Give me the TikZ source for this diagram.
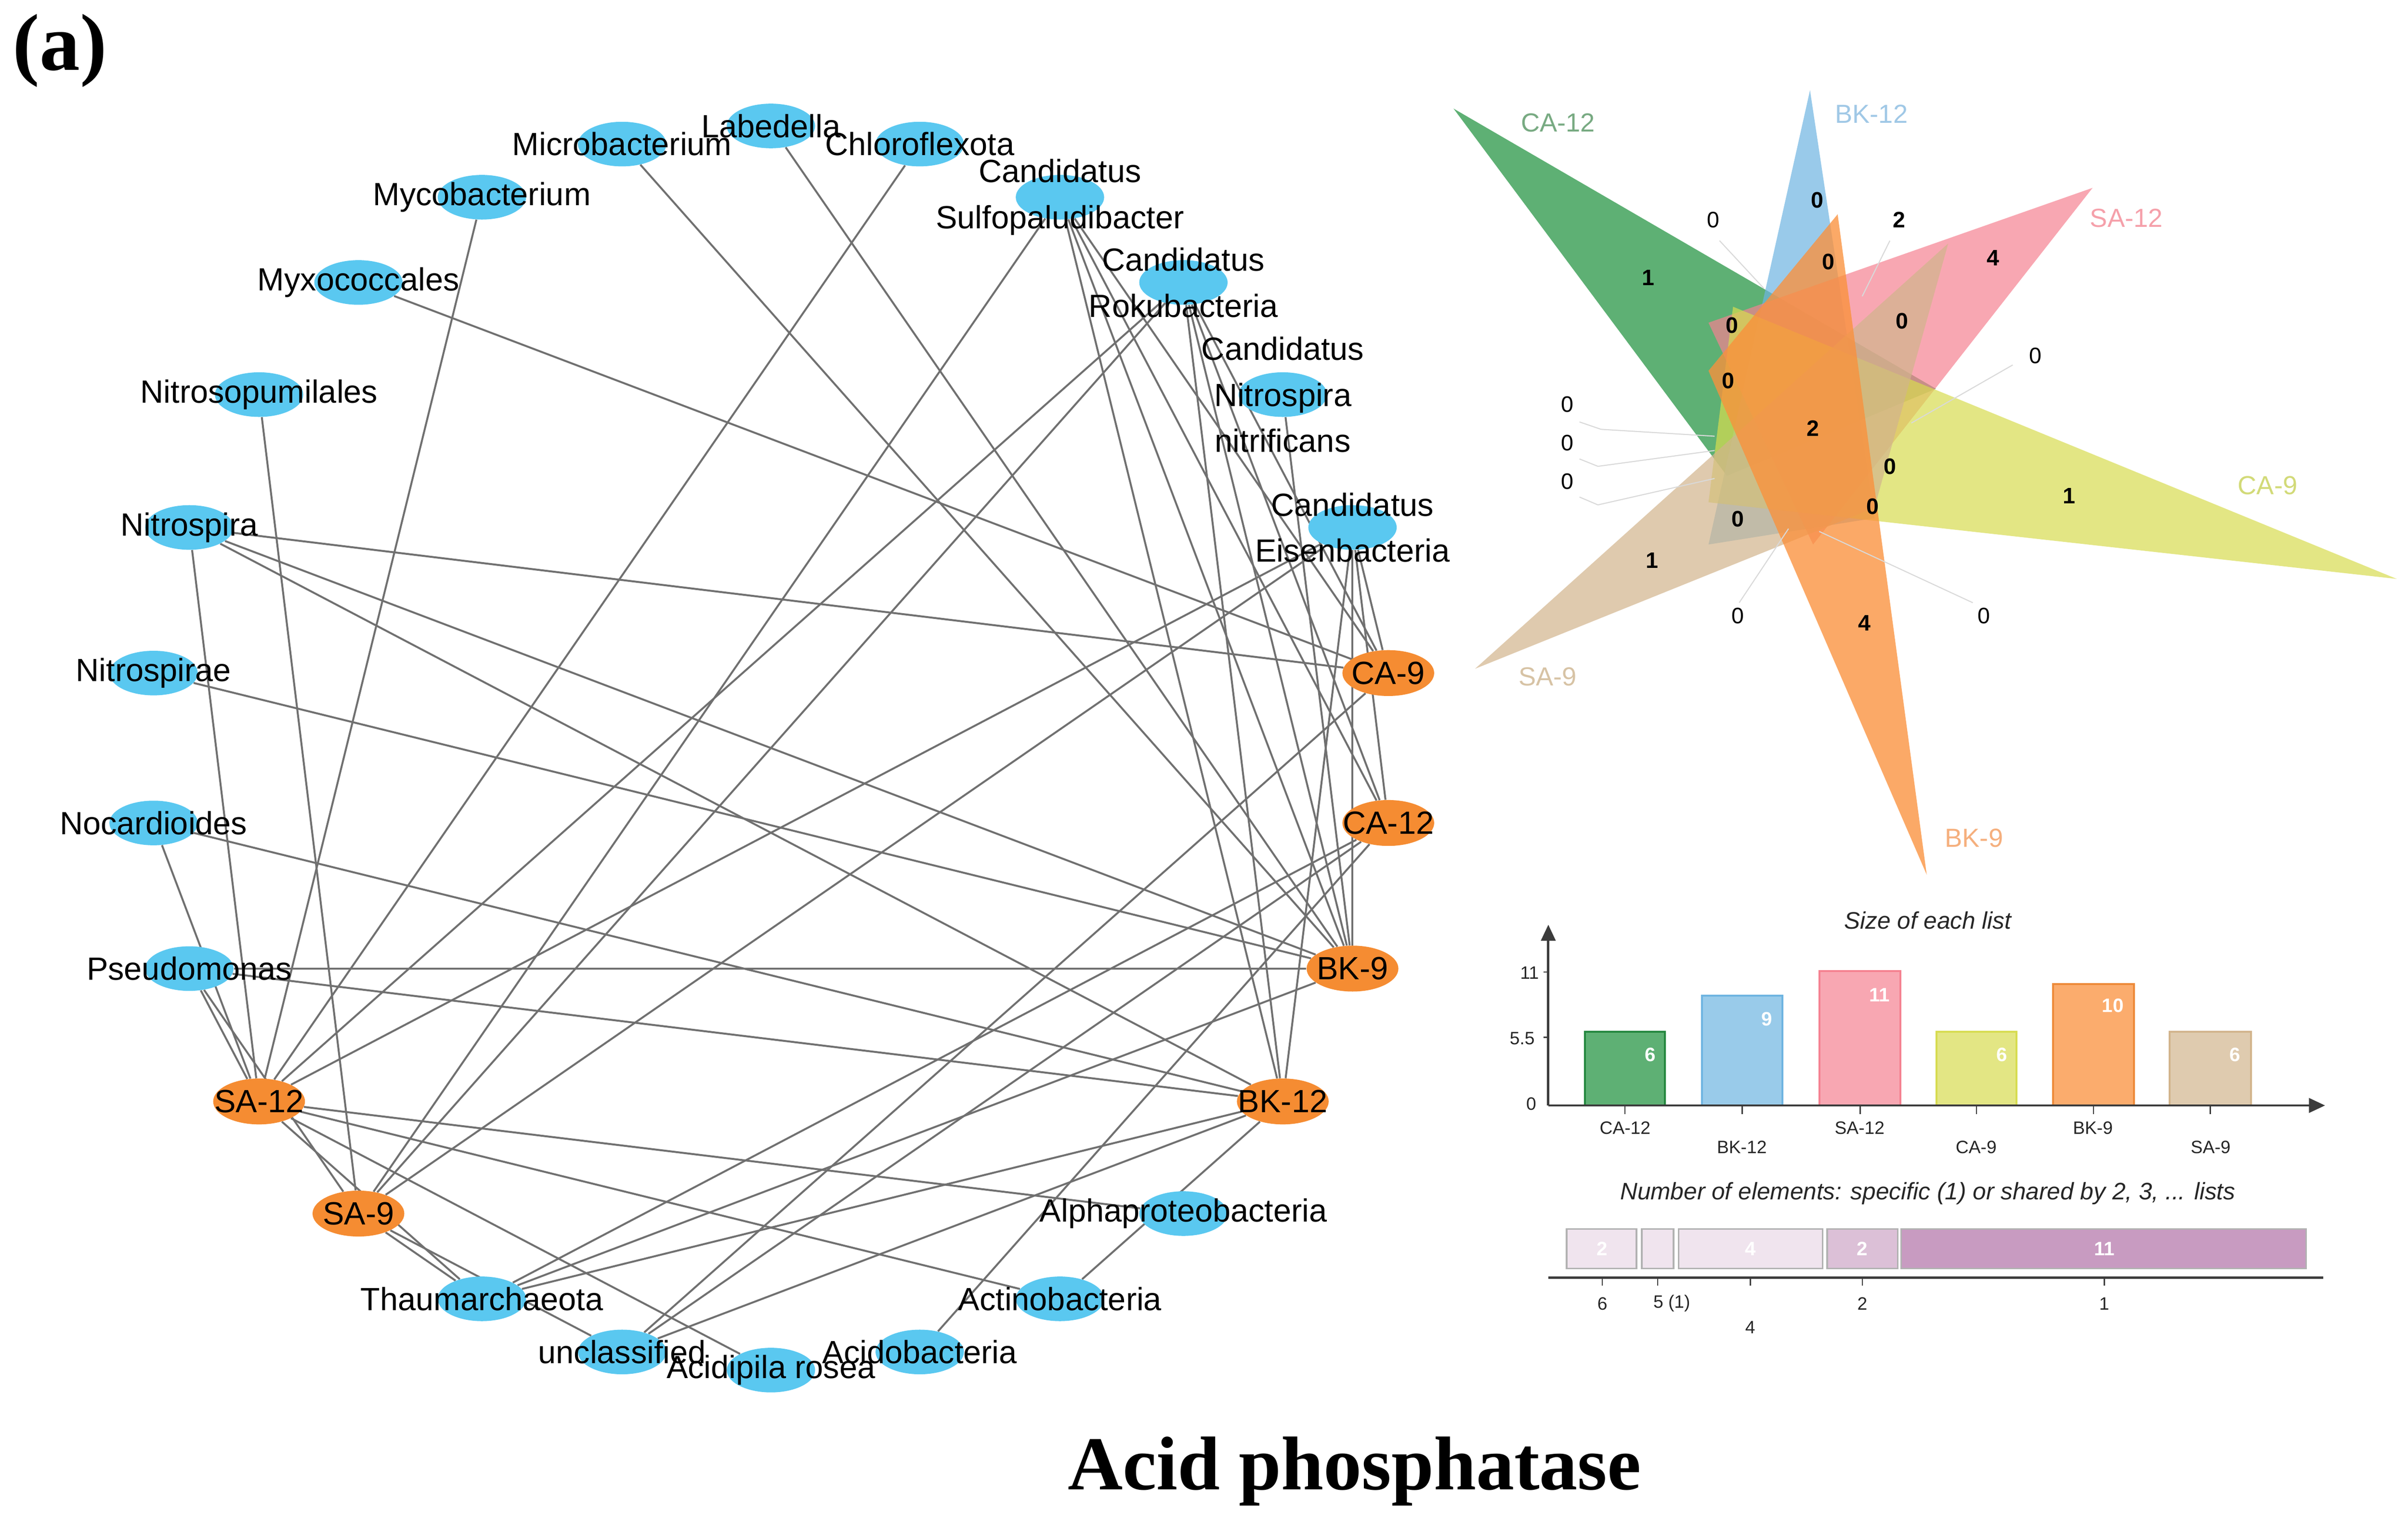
\documentclass[tikz,border=0pt]{standalone}
\usepackage{fontspec}
\setmainfont{Liberation Sans}
\newfontfamily\titlefont{Liberation Serif}
\usetikzlibrary{shapes.geometric,arrows.meta}
\pgfdeclarelayer{bg}
\pgfsetlayers{bg,main}
\definecolor{nblue}{RGB}{90,200,240}
\definecolor{norange}{RGB}{245,140,50}
\definecolor{egray}{RGB}{112,112,112}
\definecolor{vgreen}{RGB}{40,150,70}
\definecolor{vblue}{RGB}{110,180,225}
\definecolor{vpink}{RGB}{245,130,145}
\definecolor{vyellow}{RGB}{215,220,80}
\definecolor{vorange}{RGB}{250,145,60}
\definecolor{vtan}{RGB}{210,180,140}
\definecolor{lgreen}{RGB}{120,170,130}
\definecolor{lblue}{RGB}{160,200,230}
\definecolor{lpink}{RGB}{245,160,170}
\definecolor{lyellow}{RGB}{210,218,120}
\definecolor{ltan}{RGB}{215,195,165}
\definecolor{lorange}{RGB}{245,175,125}
\definecolor{axisc}{RGB}{60,60,60}
\definecolor{seglight}{RGB}{240,228,238}
\definecolor{segmid}{RGB}{220,192,215}
\definecolor{segdark}{RGB}{200,155,193}
\begin{document}
\begin{tikzpicture}[x=0.03615cm,y=-0.03615cm,
  taxon/.style={ellipse,fill=nblue,minimum width=2.08cm,minimum height=1.05cm,inner sep=0pt},
  sample/.style={ellipse,fill=norange,minimum width=2.16cm,minimum height=1.08cm,inner sep=0pt},
  lbl/.style={font=\fontsize{21.5}{30.8}\selectfont,align=center,inner sep=0pt},
  link/.style={draw=egray,line width=1.3pt},
  vlab/.style={font=\fontsize{17.5}{20}\selectfont},
  vnum/.style={font=\fontsize{15}{18}\selectfont\bfseries},
  vnumr/.style={font=\fontsize{15}{18}\selectfont},
  lead/.style={draw=black!15,line width=0.7pt},
  ctitle/.style={font=\fontsize{16}{19}\selectfont\itshape,text=black!85},
  clab/.style={font=\fontsize{12}{14}\selectfont,text=black!85},
  cval/.style={font=\fontsize{13}{15}\selectfont\bfseries,text=white},
  axisline/.style={draw=axisc,line width=1.6pt},
  bar/.style={line width=1.3pt},
  seg/.style={draw=black!30,line width=1.1pt}]
\useasboundingbox (0,0) rectangle (1568,992.6);

% ---------------- network nodes ----------------
\node[taxon] (lab) at (502,82) {};
\node[taxon] (chl) at (598.9,93.8) {};
\node[taxon] (sul) at (690.2,128.4) {};
\node[taxon] (rok) at (770.6,183.9) {};
\node[taxon] (nni) at (835.3,256.9) {};
\node[taxon] (eis) at (880.7,343.4) {};
\node[sample] (ca9) at (904.0,438.2) {};
\node[sample] (ca12) at (904.0,535.8) {};
\node[sample] (bk9) at (880.7,630.6) {};
\node[sample] (bk12) at (835.3,717.1) {};
\node[taxon] (alp) at (770.6,790.1) {};
\node[taxon] (act) at (690.2,845.6) {};
\node[taxon] (acb) at (598.9,880.2) {};
\node[taxon] (acp) at (502,892) {};
\node[taxon] (unc) at (405.1,880.2) {};
\node[taxon] (tha) at (313.8,845.6) {};
\node[sample] (sa9) at (233.4,790.1) {};
\node[sample] (sa12) at (168.7,717.1) {};
\node[taxon] (pse) at (123.3,630.6) {};
\node[taxon] (noc) at (100.0,535.8) {};
\node[taxon] (nie) at (100.0,438.2) {};
\node[taxon] (nir) at (123.3,343.4) {};
\node[taxon] (nsp) at (168.7,256.9) {};
\node[taxon] (myx) at (233.4,183.9) {};
\node[taxon] (myc) at (313.8,128.4) {};
\node[taxon] (mic) at (405.1,93.8) {};

% ---------------- network edges ----------------
\begin{pgfonlayer}{bg}
\foreach \a/\b in {lab/bk9, chl/sa12,
  sul/bk12, sul/bk9, sul/ca12, sul/ca9, sul/sa9,
  rok/bk12, rok/bk9, rok/ca12, rok/ca9, rok/sa12, rok/sa9,
  nni/bk9,
  eis/bk12, eis/bk9, eis/ca12, eis/ca9, eis/sa12, eis/sa9,
  alp/sa12, act/sa12, act/bk12, acb/ca12, acp/sa12,
  unc/sa9, unc/ca9, unc/ca12, unc/bk12,
  tha/sa12, tha/sa9, tha/bk12, tha/bk9, tha/ca12,
  pse/bk9, pse/bk12, pse/sa12, pse/sa9,
  noc/sa12, noc/bk12, nie/bk9,
  nir/ca9, nir/bk9, nir/bk12, nir/sa12,
  nsp/sa9, myx/ca9, myc/sa12, mic/bk9}
  \draw[link] (\a) -- (\b);
\end{pgfonlayer}

% ---------------- network labels ----------------
\node[lbl] at (lab) {Labedella};
\node[lbl] at (chl) {Chloroflexota};
\node[lbl] at (sul) {Candidatus\\Sulfopaludibacter};
\node[lbl] at (rok) {Candidatus\\Rokubacteria};
\node[lbl] at (nni) {Candidatus\\Nitrospira\\nitrificans};
\node[lbl] at (eis) {Candidatus\\Eisenbacteria};
\node[lbl] at (ca9) {CA-9};
\node[lbl] at (ca12) {CA-12};
\node[lbl] at (bk9) {BK-9};
\node[lbl] at (bk12) {BK-12};
\node[lbl] at (alp) {Alphaproteobacteria};
\node[lbl] at (act) {Actinobacteria};
\node[lbl] at (acb) {Acidobacteria};
\node[lbl] at (acp) {Acidipila rosea};
\node[lbl] at (unc) {unclassified};
\node[lbl] at (tha) {Thaumarchaeota};
\node[lbl] at (sa9) {SA-9};
\node[lbl] at (sa12) {SA-12};
\node[lbl] at (pse) {Pseudomonas};
\node[lbl] at (noc) {Nocardioides};
\node[lbl] at (nie) {Nitrospirae};
\node[lbl] at (nir) {Nitrospira};
\node[lbl] at (nsp) {Nitrosopumilales};
\node[lbl] at (myx) {Myxococcales};
\node[lbl] at (myc) {Mycobacterium};
\node[lbl] at (mic) {Microbacterium};

% ---------------- titles ----------------
\node[font=\titlefont\bfseries\fontsize{54}{60}\selectfont,inner sep=0pt] (tag) at (39,33) {(a)};
\node[font=\titlefont\bfseries\fontsize{51}{58}\selectfont,inner sep=0pt] (title) at (882,958) {Acid phosphatase};

% ---------------- Venn diagram ----------------
\fill[vgreen,fill opacity=0.75] (946.5,70.7) -- (1260.6,253.1) -- (1124.5,309.8) -- cycle;
\fill[vblue,fill opacity=0.7] (1178.6,58.7) -- (1220.6,337.3) -- (1112.5,354.5) -- cycle;
\fill[vpink,fill opacity=0.7] (1362.6,122.3) -- (1112.5,210.1) -- (1180.6,354.5) -- cycle;
\fill[vyellow,fill opacity=0.7] (1560.7,376.9) -- (1128.5,199.7) -- (1112.5,327.0) -- cycle;
\fill[vtan,fill opacity=0.7] (960.5,435.4) -- (1268.6,158.5) -- (1220.6,330.5) -- cycle;
\fill[vorange,fill opacity=0.78] (1254.6,569.5) -- (1112.5,241.4) -- (1196.6,139.5) -- cycle;

\draw[lead] (1119.7,156.7) -- (1148.5,187.7);
\draw[lead] (1230.6,156.7) -- (1212.6,192.9);
\draw[lead] (1310.6,237.6) -- (1244.6,275.4);
\draw[lead] (1028.5,274.7) -- (1042.5,279.5) -- (1116.5,284.0);
\draw[lead] (1028.5,298.8) -- (1040.5,303.6) -- (1116.5,293.3);
\draw[lead] (1028.5,323.6) -- (1040.5,328.7) -- (1116.5,311.5);
\draw[lead] (1132.5,392.4) -- (1164.6,344.2);
\draw[lead] (1284.6,392.4) -- (1184.6,346.0);

\node[vlab,text=lgreen] at (1014.5,80) {CA-12};
\node[vlab,text=lblue] at (1218.6,74.2) {BK-12};
\node[vlab,text=lpink] at (1384.6,142) {SA-12};
\node[vlab,text=lyellow] at (1476.6,316) {CA-9};
\node[vlab,text=ltan] at (1007.7,440.5) {SA-9};
\node[vlab,text=lorange] at (1285.4,545.5) {BK-9};

\node[vnumr] at (1115.7,143) {0};
\node[vnum] at (1183.4,130.3) {0};
\node[vnum] at (1236.6,143) {2};
\node[vnum] at (1190.6,170.5) {0};
\node[vnum] at (1297.8,168) {4};
\node[vnum] at (1073.3,180.8) {1};
\node[vnum] at (1127.8,211.8) {0};
\node[vnum] at (1238.6,209) {0};
\node[vnumr] at (1325.4,231.7) {0};
\node[vnum] at (1125.4,247.9) {0};
\node[vnumr] at (1020.5,263.4) {0};
\node[vnum] at (1180.6,278.9) {2};
\node[vnumr] at (1020.5,288.2) {0};
\node[vnumr] at (1020.5,313.3) {0};
\node[vnum] at (1230.6,303.6) {0};
\node[vnum] at (1347.4,322.9) {1};
\node[vnum] at (1219.4,329.8) {0};
\node[vnum] at (1131.7,338) {0};
\node[vnum] at (1075.7,364.9) {1};
\node[vnumr] at (1131.7,401) {0};
\node[vnum] at (1214.2,405.5) {4};
\node[vnumr] at (1291.8,401) {0};

% ---------------- Size of each list ----------------
\node[ctitle] at (1255.3,599.3) {Size of each list};
\draw[bar,fill=vgreen!75,draw=vgreen!90!black] (1031.9,719.7) rectangle (1084.2,671.7);
\draw[bar,fill=vblue!70,draw=vblue] (1108.2,719.7) rectangle (1160.5,648.2);
\draw[bar,fill=vpink!70,draw=vpink] (1184.9,719.7) rectangle (1237.6,632.3);
\draw[bar,fill=vyellow!70,draw=vyellow] (1260.9,719.7) rectangle (1313.1,671.7);
\draw[bar,fill=vorange!75,draw=vorange!95!black] (1336.8,719.7) rectangle (1389.5,640.7);
\draw[bar,fill=vtan!70,draw=vtan] (1412.8,719.7) rectangle (1465.8,671.7);
\draw[axisline,-{Triangle[length=0.38cm,width=0.34cm]}] (1008.2,719.7) -- (1008.2,602);
\draw[axisline,-{Triangle[length=0.38cm,width=0.34cm]}] (1008.2,719.7) -- (1514,719.7);
\draw[draw=axisc,line width=0.8pt] (1005,632.9) -- (1008.2,632.9);
\draw[draw=axisc,line width=0.8pt] (1005,675.4) -- (1008.2,675.4);
\foreach \x in {1058.0,1134.4,1211.3,1287.0,1363.2,1439.3}
  \draw[draw=axisc,line width=0.8pt] (\x,719.7) -- (\x,725.5);
\node[clab] at (996,633.3) {11};
\node[clab] at (991.2,676) {5.5};
\node[clab] at (997.1,718.7) {0};
\node[clab] at (1058.2,734.2) {CA-12};
\node[clab] at (1134.2,746.8) {BK-12};
\node[clab] at (1210.9,734.2) {SA-12};
\node[clab] at (1286.8,746.8) {CA-9};
\node[clab] at (1362.8,734.2) {BK-9};
\node[clab] at (1439.5,746.8) {SA-9};
\node[cval] at (1074.5,686.7) {6};
\node[cval] at (1150.5,663.4) {9};
\node[cval] at (1223.9,647.9) {11};
\node[cval] at (1303.5,686.7) {6};
\node[cval] at (1375.8,654.6) {10};
\node[cval] at (1455.4,686.7) {6};

% ---------------- Number of elements ----------------
\node[ctitle] at (1255.3,776.9) {Number of elements: specific (1) or shared by 2, 3, ... lists};
\draw[seg,fill=seglight] (1020.1,800.2) rectangle (1065.6,825.8);
\draw[seg,fill=seglight] (1069.0,800.2) rectangle (1089.7,825.8);
\draw[seg,fill=seglight] (1093.1,800.2) rectangle (1186.8,825.8);
\draw[seg,fill=segmid] (1189.8,800.2) rectangle (1235.7,825.8);
\draw[seg,fill=segdark] (1237.9,800.2) rectangle (1501.7,825.8);
\node[cval] at (1043.4,813) {2};
\node[cval] at (1139.7,813) {4};
\node[cval] at (1212.7,813) {2};
\node[cval] at (1370.2,813) {11};
\draw[axisline] (1008.2,831.8) -- (1512.8,831.8);
\foreach \x in {1043.4,1079.4,1139.7,1212.7,1370.2}
  \draw[draw=axisc,line width=0.8pt] (\x,831.8) -- (\x,837);
\node[clab] at (1043.4,848.7) {6};
\node[clab] at (1088.6,848.7) {5 (1)};
\node[clab] at (1139.7,864.2) {4};
\node[clab] at (1212.7,848.7) {2};
\node[clab] at (1370.2,848.7) {1};
\end{tikzpicture}
\end{document}
